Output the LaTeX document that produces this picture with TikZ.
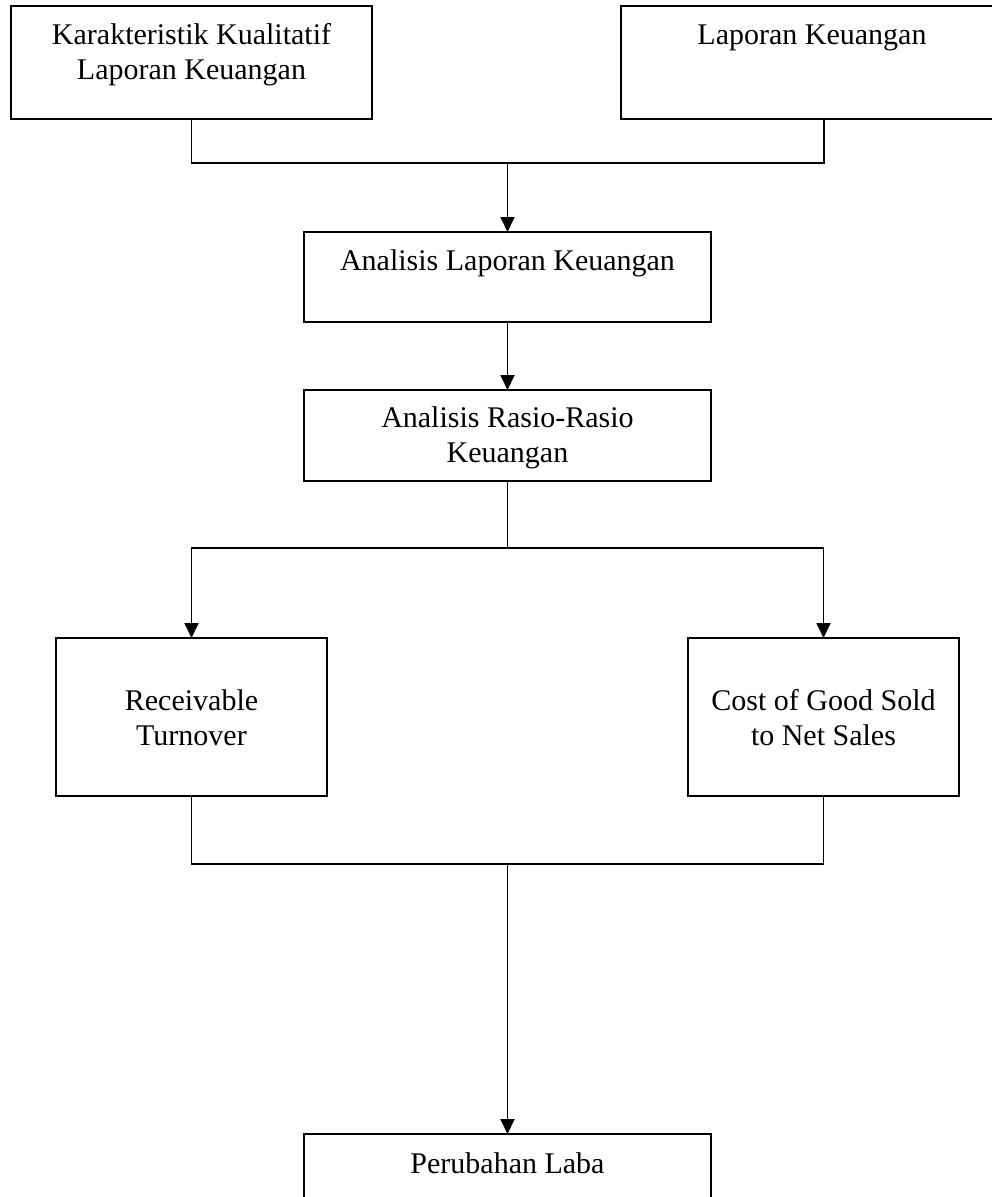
\documentclass[tikz,border=0pt]{standalone}
\usepackage{fontspec}
\setmainfont{Liberation Serif}
\usetikzlibrary{arrows.meta,positioning}
% text box: width, height, first baseline, text
\newcommand{\flowtext}[4]{\parbox[t][#2pt][t]{#1pt}{\centering\rule{0pt}{#3pt}#4}}

\begin{document}
\begin{tikzpicture}[x=1pt,y=-1pt,
  box/.style={draw,line width=1.8pt,anchor=north west,inner sep=0pt,outer sep=0pt,font=\fontsize{30}{35}\selectfont},
  link/.style={line width=1.8pt},
  flow/.style={-{Triangle[length=15pt,width=14pt]},line width=1.8pt}]
\useasboundingbox (0,0) rectangle (992,1197);
\node[box] (kk) at (11,6) {\flowtext{361}{113}{38}{Karakteristik Kualitatif\\Laporan Keuangan}};
\node[box] (lk) at (621,6) {\flowtext{382}{113}{38}{Laporan Keuangan}};
\node[box] (alk) at (304,232) {\flowtext{407}{90}{38}{Analisis Laporan Keuangan}};
\node[box] (ark) at (304,390) {\flowtext{407}{91}{37}{Analisis Rasio-Rasio\\Keuangan}};
\node[box] (rt) at (56,638) {\flowtext{271}{158}{72}{Receivable\\Turnover}};
\node[box] (cgs) at (688,638) {\flowtext{271}{158}{72}{Cost of Good Sold\\to Net Sales}};
\node[box] (pl) at (304,1134) {\flowtext{407}{100}{39}{Perubahan Laba}};
% junctions
\coordinate (j1) at (507.5,163);
\coordinate (j2) at (507.5,548);
\coordinate (j3) at (507.5,864);
\coordinate (lk-out) at ([xshift=12pt]lk.south);
\draw[link] (kk.south) |- (j1) -| (lk-out);
\draw[flow] (j1) -- (alk.north);
\draw[flow] (alk.south) -- (ark.north);
\draw[link] (ark.south) -- (j2);
\draw[flow] (j2) -| (rt.north);
\draw[flow] (j2) -| (cgs.north);
\draw[link] (rt.south) |- (j3) -| (cgs.south);
\draw[flow] (j3) -- (pl.north);
\end{tikzpicture}
\end{document}
